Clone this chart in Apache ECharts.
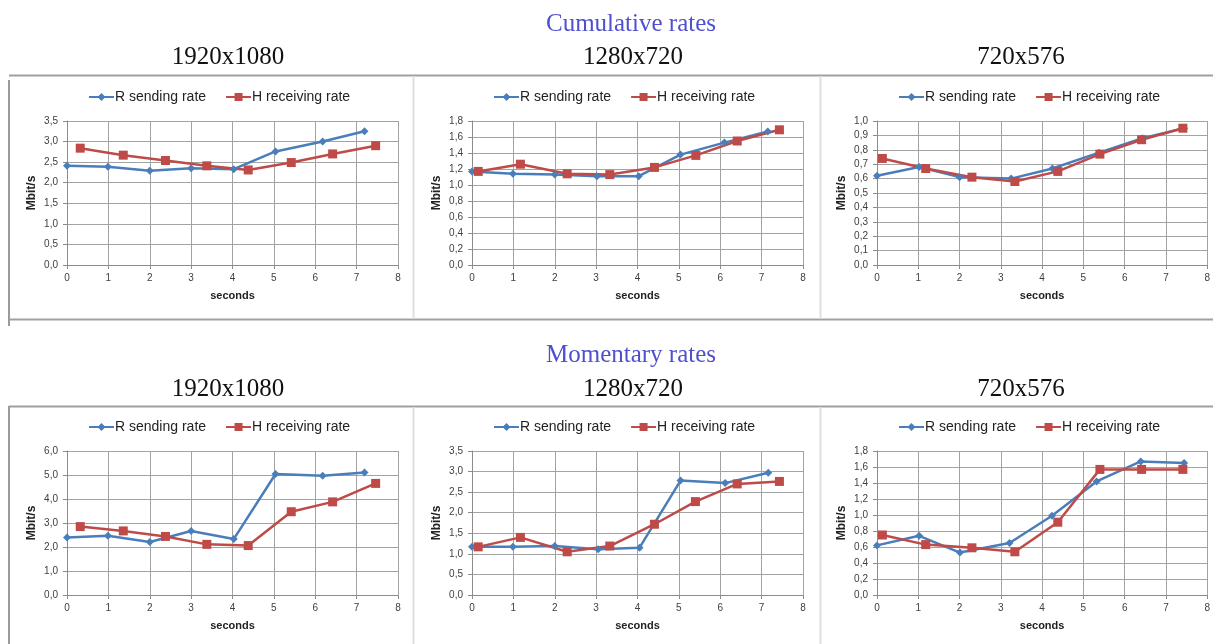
<!DOCTYPE html>
<html>
<head>
<meta charset="utf-8">
<script src="https://cdn.jsdelivr.net/npm/echarts@6/dist/echarts.min.js"></script>
<style>
html,body{margin:0;padding:0;background:#fff;}
#chart{width:1213px;height:644px;}
</style>
</head>
<body>
<div id="chart"></div>
<script>
// ---- data ----
const sectionTitles = ['Cumulative rates', 'Momentary rates'];
const resolutions = ['1920x1080', '1280x720', '720x576'];
const seriesNames = ['R sending rate', 'H receiving rate'];
const xTickMax = 8;
const xTickStep = 1;
const yMaxes = [3.5, 1.8, 1.0, 6.0, 3.5, 1.8];
const ySteps = [0.5, 0.2, 0.1, 1.0, 0.5, 0.2];

const cumR_1920 = [[0,2.41],[0.99,2.39],[2.0,2.29],[3.0,2.35],[4.03,2.33],[5.04,2.76],[6.18,3.00],[7.19,3.25]];
const cumH_1920 = [[0.32,2.84],[1.36,2.67],[2.38,2.54],[3.38,2.41],[4.38,2.31],[5.42,2.49],[6.42,2.70],[7.46,2.90]];
const cumR_1280 = [[0,1.17],[0.99,1.14],[2.0,1.13],[3.02,1.11],[4.03,1.11],[5.04,1.38],[6.10,1.53],[7.15,1.67]];
const cumH_1280 = [[0.15,1.17],[1.17,1.26],[2.30,1.14],[3.33,1.13],[4.41,1.22],[5.41,1.37],[6.41,1.55],[7.43,1.69]];
const cumR_720  = [[0,0.62],[1.02,0.68],[2.0,0.61],[3.25,0.60],[4.25,0.67],[5.38,0.78],[6.43,0.88],[7.44,0.95]];
const cumH_720  = [[0.13,0.74],[1.18,0.67],[2.30,0.61],[3.34,0.58],[4.38,0.65],[5.40,0.77],[6.41,0.87],[7.41,0.95]];

const momR_1920 = [[0,2.40],[0.99,2.47],[2.0,2.21],[3.0,2.67],[4.03,2.33],[5.04,5.04],[6.18,4.97],[7.19,5.10]];
const momH_1920 = [[0.32,2.85],[1.36,2.67],[2.38,2.44],[3.38,2.11],[4.38,2.06],[5.42,3.47],[6.42,3.88],[7.46,4.65]];
const momR_1280 = [[0,1.17],[0.99,1.17],[2.0,1.19],[3.05,1.11],[4.05,1.15],[5.04,2.78],[6.12,2.72],[7.16,2.97]];
const momH_1280 = [[0.15,1.17],[1.17,1.40],[2.30,1.05],[3.33,1.19],[4.41,1.72],[5.40,2.27],[6.41,2.70],[7.43,2.76]];
const momR_720  = [[0,0.62],[1.02,0.74],[2.01,0.53],[3.21,0.65],[4.24,0.99],[5.32,1.42],[6.39,1.67],[7.44,1.65]];
const momH_720  = [[0.13,0.75],[1.18,0.63],[2.30,0.59],[3.34,0.54],[4.38,0.91],[5.40,1.57],[6.41,1.57],[7.41,1.57]];

const panelR = [cumR_1920, cumR_1280, cumR_720, momR_1920, momR_1280, momR_720];
const panelH = [cumH_1920, cumH_1280, cumH_720, momH_1920, momH_1280, momH_720];

// ---- layout ----
const colLeft = [67, 472, 877];
const plotW = 331;
const rowTop = [121, 451];
const plotH = 144;
const legendLeft = [83, 488, 893];
const legendTop = [85, 415];
const colCenter = [228, 633, 1021];
const blue = '#4a7ebb';
const red = '#be4b48';
const gridColor = '#a3a3a3';

const fmt = v => v.toFixed(1).replace('.', ',');

const grids = [], xAxes = [], yAxes = [], series = [], legends = [];
for (let p = 0; p < 6; p++) {
  const row = Math.floor(p / 3), col = p % 3;
  grids.push({left: colLeft[col], top: rowTop[row], width: plotW, height: plotH, containLabel: false});
  xAxes.push({
    type: 'value', gridIndex: p, min: 0, max: xTickMax, interval: xTickStep,
    name: 'seconds', nameLocation: 'middle', nameGap: 25,
    nameTextStyle: {fontFamily: 'Liberation Sans', fontWeight: 'bold', fontSize: 11, color: '#222'},
    axisLine: {lineStyle: {color: '#8c8c8c', width: 1}},
    axisTick: {show: true, length: 4, lineStyle: {color: '#8c8c8c'}},
    axisLabel: {fontFamily: 'Liberation Sans', fontSize: 10, color: '#404040', margin: 8},
    splitLine: {show: true, lineStyle: {color: gridColor, width: 1}}
  });
  yAxes.push({
    type: 'value', gridIndex: p, min: 0, max: yMaxes[p], interval: ySteps[p],
    name: 'Mbit/s', nameLocation: 'middle', nameGap: 29,
    nameTextStyle: {fontFamily: 'Liberation Sans', fontWeight: 'bold', fontSize: 12, color: '#222'},
    axisLine: {show: true, lineStyle: {color: '#8c8c8c', width: 1}},
    axisTick: {show: true, length: 4, lineStyle: {color: '#8c8c8c'}},
    axisLabel: {fontFamily: 'Liberation Sans', fontSize: 10, color: '#404040', margin: 9, formatter: fmt},
    splitLine: {show: true, lineStyle: {color: gridColor, width: 1}}
  });
  series.push({
    name: seriesNames[0], type: 'line', xAxisIndex: p, yAxisIndex: p, data: panelR[p],
    symbol: 'diamond', symbolSize: 8, color: blue,
    lineStyle: {color: blue, width: 2.5}, itemStyle: {color: blue}, animation: false
  });
  series.push({
    name: seriesNames[1], type: 'line', xAxisIndex: p, yAxisIndex: p, data: panelH[p],
    symbol: 'rect', symbolSize: 9, color: red,
    lineStyle: {color: red, width: 2.5}, itemStyle: {color: red}, animation: false
  });
  legends.push({
    left: legendLeft[col], top: legendTop[row], itemWidth: 25, itemHeight: 10, itemGap: 19,
    data: seriesNames, selectedMode: false,
    textStyle: {fontFamily: 'Liberation Sans', fontSize: 14, color: '#222', padding: [0, 0, 0, -4]}
  });
}

const graphics = [];
const line = (x1, y1, x2, y2, color, w) => graphics.push({
  type: 'line', silent: true, shape: {x1, y1, x2, y2}, style: {stroke: color, lineWidth: w}
});
// section frames
line(9, 75.5, 1213, 75.5, '#a0a0a0', 2);
line(9, 80, 9, 326, '#9a9a9a', 2);
line(9, 319.5, 1213, 319.5, '#a0a0a0', 2);
line(413.5, 76, 413.5, 319, '#dedede', 2);
line(820.5, 76, 820.5, 319, '#dedede', 2);
line(9, 406.5, 1213, 406.5, '#a0a0a0', 2);
line(9, 406, 9, 644, '#9a9a9a', 2);
line(413.5, 407, 413.5, 644, '#dedede', 2);
line(820.5, 407, 820.5, 644, '#dedede', 2);

const sectionY = [24, 355];
const resY = [57, 389];
for (let s = 0; s < 2; s++) {
  graphics.push({type: 'text', x: 631, y: sectionY[s], style: {
    text: sectionTitles[s], align: 'center', verticalAlign: 'middle',
    font: '25px "Liberation Serif"', fill: '#4f4fcf'}});
  for (let c = 0; c < 3; c++) {
    graphics.push({type: 'text', x: colCenter[c], y: resY[s], style: {
      text: resolutions[c], align: 'center', verticalAlign: 'middle',
      font: '25px "Liberation Serif"', fill: '#111'}});
  }
}

const chart = echarts.init(document.getElementById('chart'), null, {renderer: 'canvas'});
chart.setOption({
  backgroundColor: '#fff',
  animation: false,
  grid: grids, xAxis: xAxes, yAxis: yAxes, series: series, legend: legends,
  graphic: graphics
});
</script>
</body>
</html>
